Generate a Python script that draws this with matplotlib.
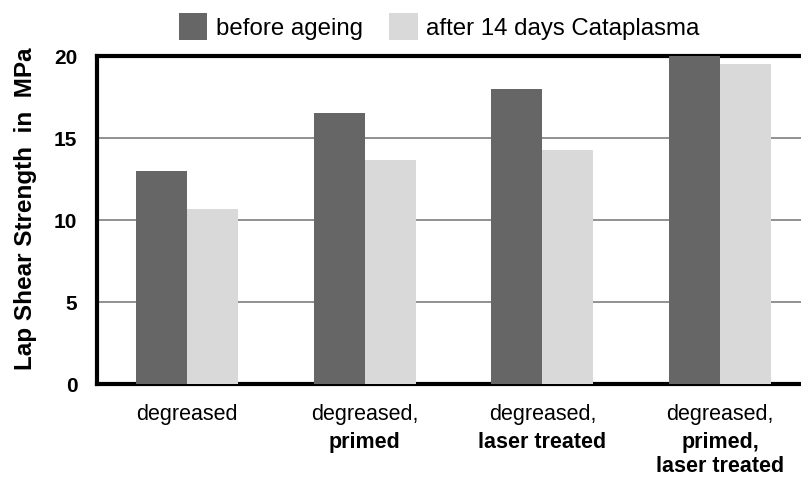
import matplotlib.pyplot as plt
import numpy as np

plt.rcParams['font.family'] = ['Liberation Sans', 'DejaVu Sans']

# Data
groups = ["degreased", "degreased,\nprimed", "degreased,\nlaser treated", "degreased,\nprimed,\nlaser treated"]
first_lines = ["degreased", "degreased,", "degreased,", "degreased,"]
bold_lines = ["", "primed", "laser treated", "primed,\nlaser treated"]
before_ageing = [13.0, 16.55, 18.0, 20.0]
after_cataplasma = [10.7, 13.65, 14.25, 19.55]
series_names = ["before ageing", "after 14 days Cataplasma"]
yticks = [0, 5, 10, 15, 20]

fig = plt.figure(figsize=(8.01, 4.8), dpi=100)
ax = fig.add_axes([0.121, 0.2, 0.879, 0.683])

x = np.arange(len(groups))
w = 0.287
ax.bar(x - w / 2, before_ageing, w, color="#666666", label=series_names[0], zorder=3)
ax.bar(x + w / 2, after_cataplasma, w, color="#d9d9d9", label=series_names[1], zorder=3)

ax.set_xlim(-0.506, 3.455)
ax.set_ylim(0, 20)
ax.set_yticks(yticks)
ax.set_yticklabels([str(t) for t in yticks], fontsize=15, fontweight="bold")
ax.tick_params(axis="y", length=0, pad=14)
ax.set_xticks([])
for v in yticks[1:-1]:
    ax.axhline(v, color="#888888", linewidth=1.3, zorder=1)

for side in ["left", "bottom", "top"]:
    ax.spines[side].set_linewidth(3)
ax.spines["right"].set_visible(False)

ax.set_ylabel("Lap Shear Strength  in  MPa", fontsize=17.5, fontweight="bold")
ax.yaxis.set_label_coords(-0.085, 0.535)

# category labels: first line regular, remaining lines bold
trans = ax.get_xaxis_transform()
for i in range(len(groups)):
    ax.text(x[i], -0.062, first_lines[i], transform=trans, ha="center", va="top",
            fontsize=15.5, clip_on=False)
    if bold_lines[i]:
        ax.text(x[i], -0.145, bold_lines[i], transform=trans, ha="center", va="top",
                fontsize=15.5, fontweight="bold", linespacing=1.22, clip_on=False)

fig.legend(loc="upper left", bbox_to_anchor=(0.207, 1.0), ncol=2, frameon=False,
           fontsize=17.3, handlelength=1.17, handleheight=1.33, columnspacing=1.1,
           handletextpad=0.37, borderpad=0.35, borderaxespad=0.2)

plt.savefig("out.png", dpi=100)
